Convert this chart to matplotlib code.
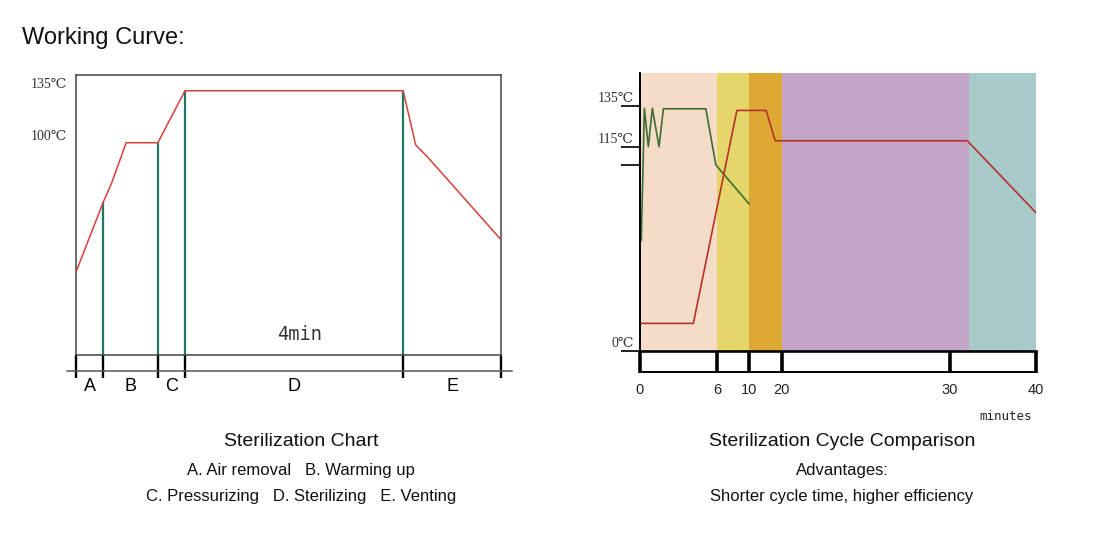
import numpy as np
import matplotlib
matplotlib.use('Agg')
import matplotlib.pyplot as plt

# --- left chart: working curve (schematic time units) ---
phase_edges = [0, 1, 3, 4, 12, 15.6]
phase_names = ['A', 'B', 'C', 'D', 'E']
curve_x = [0, 1, 1.31, 1.84, 3, 4, 12, 12.46, 12.89, 15.6]
curve_temp = [13, 60, 73, 100, 100, 135, 135, 98.5, 90.5, 34.5]
left_levels = [135, 100]
left_level_labels = ['135℃', '100℃']

# --- right chart: sterilization cycle comparison (minutes) ---
minute_ticks = [0, 6, 10, 20, 30, 40]
band_edges = [0, 6, 10, 20, 32.2, 40]
band_colors = ['#F5DCC8', '#E4D668', '#DEA834', '#C4A5C7', '#A8CAC8']
red_min = [0, 4.15, 8.44, 15.2, 18.0, 32.05, 40]
red_temp = [15.4, 15.4, 132.7, 132.7, 117.9, 117.9, 77.8]
green_min = [0.1, 0.34, 0.65, 0.96, 1.48, 1.82, 5.12, 5.9, 9.96]
green_temp = [62, 133.7, 115, 133.7, 115, 133.5, 133.5, 104.7, 82.7]
right_ticks = [0, 104.5, 115, 135]
right_labels = ['0℃', '', '115℃', '135℃']

SERIF = ['Liberation Serif', 'DejaVu Serif']
SANS = ['Liberation Sans', 'DejaVu Sans']

fig = plt.figure(figsize=(11.02, 5.5), dpi=100)
W, H = 1102, 550


def px_axes(l, t, r, b):
    return fig.add_axes([l / W, 1 - b / H, (r - l) / W, (b - t) / H])


# ================= left chart =================
ax = px_axes(76, 74.7, 501.3, 355)
ax.set_xlim(phase_edges[0], phase_edges[-1])
ax.set_ylim(-42.9, 145.8)
for s in ax.spines.values():
    s.set_color('#444444')
    s.set_linewidth(1.1)

ax.plot(curve_x, curve_temp, color='#D6403A', lw=1.1, zorder=3)
inner = phase_edges[1:-1]
ax.vlines(inner, -42.9, np.interp(inner, curve_x, curve_temp),
          color='#1E7864', lw=1.6, zorder=2)

# phase ticks in the strip below the box
ax.set_xticks(phase_edges)
ax.set_xticklabels([''] * len(phase_edges))
ax.tick_params(axis='x', which='major', direction='out', length=16.5,
               width=1.7, color='black')
mids = [(a + b) / 2 for a, b in zip(phase_edges[:-1], phase_edges[1:])]
ax.set_xticks(mids, minor=True)
ax.set_xticklabels(phase_names, minor=True, fontsize=13, family=SANS)
ax.tick_params(axis='x', which='minor', length=0, pad=16.5)
ax.set_yticks([])

strip_y = -53.6
ax.plot([-0.33, 16.0], [strip_y, strip_y], color='#555555', lw=1.1,
        clip_on=False)

for lv, lab in zip(left_levels, left_level_labels):
    ax.annotate(lab, xy=(0, lv), xycoords=('axes fraction', 'data'),
                xytext=(-9, 6), textcoords='offset pixels', ha='right',
                va='center', fontsize=10, family=SERIF, color='#333333')

ax.text(8.2, -29.4, '4min', ha='center', va='center', fontsize=13.5,
        family='DejaVu Sans Mono', color='#333333')

# ================= right chart =================
M_ANCH = [-10, 0, 6, 10, 20, 30, 40, 50]
M_PX = [-98.8, 0, 77, 109.3, 141.3, 309, 395.3, 481.6]
T_ANCH = [-100, 0, 115, 135, 300]
T_PX = [-177.4, 0, 204, 245, 583.25]

ax2 = px_axes(640, 72.7, 1036, 350.7)
ax2.set_xscale('function', functions=(lambda v: np.interp(v, M_ANCH, M_PX),
                                      lambda v: np.interp(v, M_PX, M_ANCH)))
ax2.set_yscale('function', functions=(lambda v: np.interp(v, T_ANCH, T_PX),
                                      lambda v: np.interp(v, T_PX, T_ANCH)))
ax2.set_xlim(0, 40)
ax2.set_ylim(0, 151.1)

for i, c in enumerate(band_colors):
    ax2.axvspan(band_edges[i], band_edges[i + 1], color=c, lw=0, zorder=0)

ax2.plot(green_min, green_temp, color='#3C6E32', lw=1.2, zorder=3)
ax2.plot(red_min, red_temp, color='#B5302E', lw=1.2, zorder=3)

ax2.spines['top'].set_visible(False)
ax2.spines['right'].set_visible(False)
ax2.spines['left'].set_linewidth(1.4)
ax2.spines['bottom'].set_linewidth(1.9)
ax2.spines['left'].set_zorder(4)
ax2.spines['bottom'].set_zorder(4)

ax2.set_xticks(minute_ticks)
ax2.set_xticklabels([str(m) for m in minute_ticks], fontsize=10.5,
                    family=SANS, color='#222222')
ax2.xaxis.set_minor_locator(matplotlib.ticker.NullLocator())
ax2.tick_params(axis='x', direction='out', length=16, width=2.6,
                color='black', pad=7)

ax2.set_yticks(right_ticks)
ax2.set_yticklabels([''] * len(right_ticks))
ax2.yaxis.set_minor_locator(matplotlib.ticker.NullLocator())
ax2.tick_params(axis='y', direction='out', length=13.5, width=1.3,
                color='#111111')
for t, lab in zip(right_ticks, right_labels):
    if lab:
        ax2.annotate(lab, xy=(0, t), xycoords=('axes fraction', 'data'),
                     xytext=(-6, 7), textcoords='offset pixels', ha='right',
                     va='center', fontsize=10, family=SERIF,
                     color='#333333')

strip2 = -11.8
ax2.plot([0, 40], [strip2, strip2], color='black', lw=1.4, clip_on=False)

fig.text(1006 / W, 1 - 416 / H, 'minutes', ha='center', va='center',
         fontsize=9, family='DejaVu Sans Mono', color='#222222')

# ================= captions =================
fig.text(22 / W, 1 - 38 / H, 'Working Curve:', ha='left', va='center',
         fontsize=17, family=SANS, color='#111111')

fig.text(301 / W, 1 - 442 / H, 'Sterilization Chart', ha='center',
         va='center', fontsize=14, family=SANS, color='#111111')
fig.text(301 / W, 1 - 471 / H, 'A. Air removal   B. Warming up',
         ha='center', va='center', fontsize=12, family=SANS, color='#111111')
fig.text(301 / W, 1 - 496 / H,
         'C. Pressurizing   D. Sterilizing   E. Venting',
         ha='center', va='center', fontsize=12, family=SANS, color='#111111')

fig.text(842 / W, 1 - 442 / H, 'Sterilization Cycle Comparison',
         ha='center', va='center', fontsize=14, family=SANS, color='#111111')
fig.text(842 / W, 1 - 471 / H, 'Advantages:', ha='center', va='center',
         fontsize=12, family=SANS, color='#111111')
fig.text(842 / W, 1 - 496 / H, 'Shorter cycle time, higher efficiency',
         ha='center', va='center', fontsize=12, family=SANS, color='#111111')

fig.savefig('out.png', dpi=100)
